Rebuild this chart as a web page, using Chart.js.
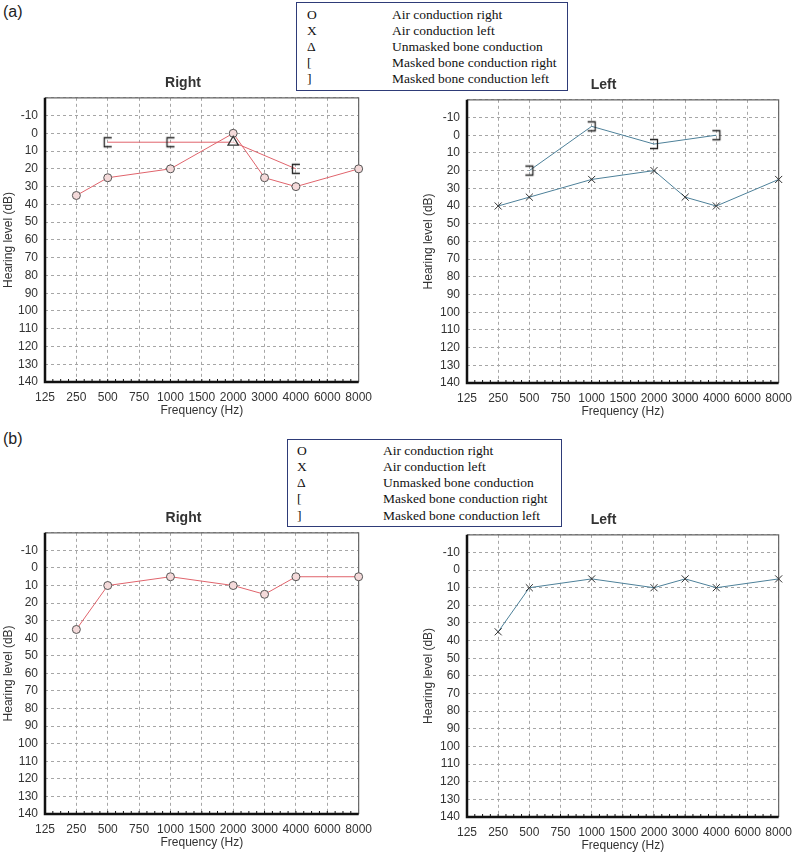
<!DOCTYPE html>
<html>
<head>
<meta charset="utf-8">
<title>Audiograms</title>
<script src="https://cdn.jsdelivr.net/npm/chart.js"></script>
<style>
body { margin: 0; background: #fff; }
#page { position: relative; width: 800px; height: 858px; overflow: hidden; font-family: "Liberation Sans", Arial, sans-serif; }
.tag { position: absolute; left: 3px; font-size: 16px; color: #222; line-height: 18px; }
.key { position: absolute; box-sizing: border-box; border: 1px solid #2e3b78; font-family: "Liberation Serif", "Times New Roman", serif; font-size: 13.5px; color: #111; }
.key div { position: absolute; white-space: nowrap; line-height: 16px; }
canvas { position: absolute; }
</style>
</head>
<body>
<div id="page">
    <div class="tag" style="top:3px">(a)</div>
    <div class="tag" style="top:430px">(b)</div>
    <div class="key" id="keyA" style="left:296px;top:2px;width:272px;height:89px"></div>
    <div class="key" id="keyB" style="left:287px;top:439px;width:275px;height:88px"></div>
    <canvas id="aRight" width="380" height="350" style="left:0px;top:70px"></canvas>
    <canvas id="aLeft" width="400" height="349" style="left:400px;top:72px"></canvas>
    <canvas id="bRight" width="380" height="347" style="left:0px;top:505px"></canvas>
    <canvas id="bLeft" width="400" height="348" style="left:400px;top:507px"></canvas>
</div>

<script>
// frequency axis labels
const freqLabels = ['125', '250', '500', '750', '1000', '1500', '2000', '3000', '4000', '6000', '8000'];
const airFreqs = ['250', '500', '1000', '2000', '3000', '4000', '8000'];

// legend
const keySymbols = ['O', 'X', '\u0394', '[', ']'];
const keyLabels = ['Air conduction right', 'Air conduction left', 'Unmasked bone conduction',
    'Masked bone conduction right', 'Masked bone conduction left'];

// (a) hearing levels, dB
const aAirRight = [35, 25, 20, 0, 25, 30, 20];
const aAirLeft = [40, 35, 25, 20, 35, 40, 25];
const aMaskedRightFreqs = ['500', '1000', '4000'];
const aMaskedRight = [5, 5, 20];
const aUnmaskedFreqs = ['2000'];
const aUnmasked = [5];
const aMaskedLeftFreqs = ['500', '1000', '2000', '4000'];
const aMaskedLeft = [20, -5, 5, 0];

// (b) hearing levels, dB
const bAirRight = [35, 10, 5, 10, 15, 5, 5];
const bAirLeft = [35, 10, 5, 10, 5, 10, 5];

const redLine = '#e0646c';
const blueLine = '#4d8099';

function fillKey(id, symLeft, textLeft, rowTops) {
    const box = document.getElementById(id);
    keySymbols.forEach((s, i) => {
        const a = document.createElement('div');
        a.textContent = s;
        a.style.left = symLeft + 'px';
        a.style.top = rowTops[i] + 'px';
        box.appendChild(a);
        const b = document.createElement('div');
        b.textContent = keyLabels[i];
        b.style.left = textLeft + 'px';
        b.style.top = rowTops[i] + 'px';
        box.appendChild(b);
    });
}
fillKey('keyA', 10, 95, [4, 20, 36, 52, 68]);
fillKey('keyB', 9, 95, [3, 19, 35, 51, 68]);

function makeBracket(open) {
    const c = document.createElement('canvas');
    c.width = 14; c.height = 14;
    const g = c.getContext('2d');
    g.strokeStyle = '#222';
    g.lineWidth = 1.3;
    g.beginPath();
    if (open === 'right') {      // "["
        g.moveTo(11, 2.5); g.lineTo(3.5, 2.5); g.lineTo(3.5, 11.5); g.lineTo(11, 11.5);
    } else {                     // "]"
        g.moveTo(3, 2.5); g.lineTo(10.5, 2.5); g.lineTo(10.5, 11.5); g.lineTo(3, 11.5);
    }
    g.stroke();
    return c;
}
const bracketOpen = makeBracket('right');
const bracketClose = makeBracket('left');

function pairs(freqs, vals, kind) {
    return freqs.map((f, i) => ({ x: f, y: vals[i], kind: kind }));
}

const framePlugin = {
    id: 'frame',
    beforeDatasetsDraw(chart) {
        const { ctx, chartArea: a } = chart;
        ctx.save();
        ctx.strokeStyle = '#666';
        ctx.lineWidth = 1.2;
        ctx.beginPath();
        ctx.moveTo(a.left, a.top); ctx.lineTo(a.right, a.top); ctx.lineTo(a.right, a.bottom);
        ctx.stroke();
        ctx.strokeStyle = '#111';
        ctx.lineWidth = 2.5;
        ctx.beginPath();
        ctx.moveTo(a.left, a.top); ctx.lineTo(a.left, a.bottom); ctx.lineTo(a.right, a.bottom);
        ctx.stroke();
        ctx.lineWidth = 1;
        ctx.beginPath();
        for (let i = 1; i < 40; i++) {
            const x = a.left + (a.right - a.left) * i / 40;
            ctx.moveTo(x, a.bottom); ctx.lineTo(x, a.bottom - 3);
        }
        ctx.stroke();
        ctx.restore();
    }
};

function airRightSet(vals) {
    return {
        data: pairs(airFreqs, vals, 'air'),
        borderColor: redLine, borderWidth: 1,
        pointStyle: 'circle', pointRadius: 4,
        pointBackgroundColor: '#f4dada', pointBorderColor: '#555', pointBorderWidth: 1
    };
}
function airLeftSet(vals) {
    return {
        data: pairs(airFreqs, vals, 'air'),
        borderColor: blueLine, borderWidth: 1,
        pointStyle: 'crossRot', pointRadius: 5,
        pointBorderColor: '#333', pointBorderWidth: 1
    };
}

function audiogram(id, title, padL, padR, axisW, datasets) {
    new Chart(document.getElementById(id), {
        type: 'line',
        data: { labels: freqLabels, datasets: datasets },
        options: {
            responsive: false,
            animation: false,
            layout: { padding: { left: padL, right: padR, top: 0, bottom: 0 } },
            plugins: {
                legend: { display: false },
                tooltip: { enabled: false },
                title: {
                    display: true, text: title, color: '#333',
                    font: { family: '"Liberation Sans", Arial, sans-serif', size: 14, weight: 'bold' },
                    padding: { top: 5, bottom: 6 }
                }
            },
            scales: {
                x: {
                    type: 'category', offset: false,
                    grid: { color: '#a6a6a6', drawTicks: false },
                    border: { display: false, dash: [3, 3] },
                    ticks: { color: '#333', font: { size: 12 }, padding: 8, maxRotation: 0, autoSkip: false },
                    title: { display: true, text: 'Frequency (Hz)', color: '#333', font: { size: 12 }, padding: { top: 0, bottom: 2 } },
                    afterFit(s) { s.height = 38; }
                },
                y: {
                    min: -20, max: 140, reverse: true,
                    grid: { color: '#a6a6a6', drawTicks: false },
                    border: { display: false, dash: [3, 3] },
                    ticks: { stepSize: 10, color: '#333', font: { size: 12 }, padding: 7,
                        callback: v => v === -20 ? '' : v },
                    title: { display: true, text: 'Hearing level (dB)', color: '#333', font: { size: 12 }, padding: { top: 1, bottom: 0 } },
                    afterFit(s) { s.width = axisW; }
                }
            }
        },
        plugins: [framePlugin]
    });
}

const boneRight = pairs(aMaskedRightFreqs, aMaskedRight, 'masked')
    .concat(pairs(aUnmaskedFreqs, aUnmasked, 'unmasked'))
    .sort((p, q) => freqLabels.indexOf(p.x) - freqLabels.indexOf(q.x));

audiogram('aRight', 'Right', 0, 14, 45, [
    {
        data: boneRight,
        borderColor: redLine, borderWidth: 1,
        pointStyle: c => c.raw && c.raw.kind === 'unmasked' ? 'triangle' : bracketOpen,
        pointRadius: 6,
        pointBackgroundColor: 'rgba(255,255,255,0.6)', pointBorderColor: '#333', pointBorderWidth: 1.3
    },
    airRightSet(aAirRight)
]);

audiogram('aLeft', 'Left', 20, 13, 47, [
    {
        data: pairs(aMaskedLeftFreqs, aMaskedLeft, 'masked'),
        borderColor: blueLine, borderWidth: 1,
        pointStyle: bracketClose, pointRadius: 5
    },
    airLeftSet(aAirLeft)
]);

audiogram('bRight', 'Right', 0, 13, 45, [airRightSet(bAirRight)]);
audiogram('bLeft', 'Left', 20, 13, 47, [airLeftSet(bAirLeft)]);
</script>
</body>
</html>
